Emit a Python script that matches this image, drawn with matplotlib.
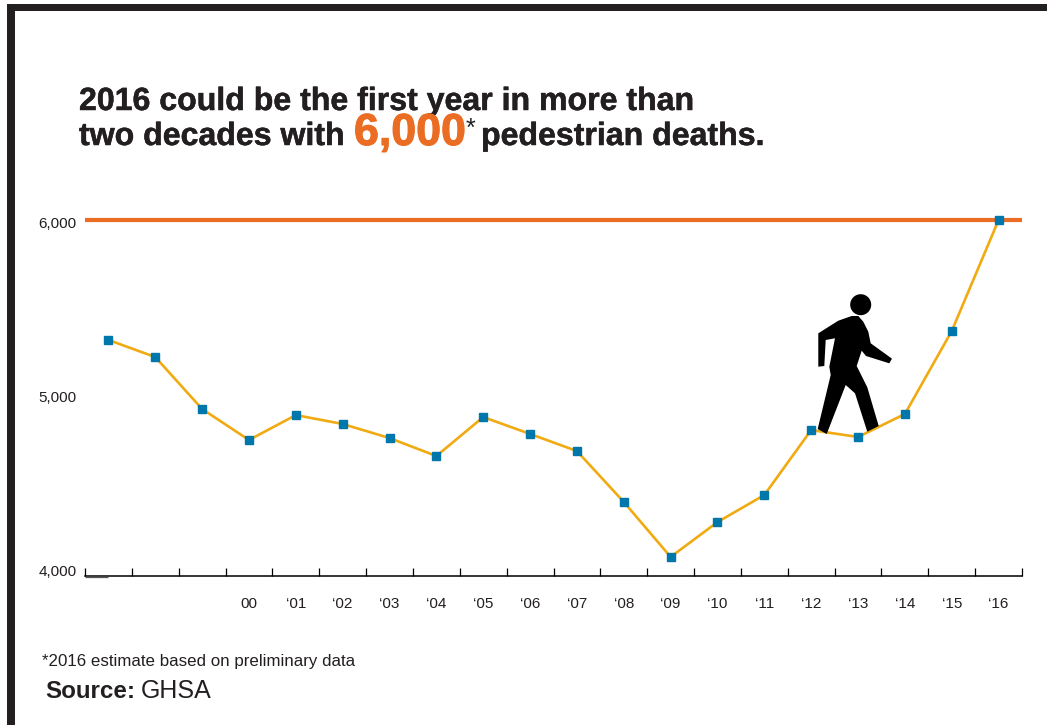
import matplotlib
matplotlib.use('Agg')
import matplotlib.pyplot as plt
import matplotlib.patheffects as pe
from matplotlib.patches import Circle, Polygon, Rectangle
from matplotlib.transforms import ScaledTranslation

plt.rcParams['font.family'] = ['Liberation Sans', 'DejaVu Sans']

W, H = 1047, 725
DARK = '#231f20'
ORANGE = '#ea6d23'
YELLOW = '#f0aa12'
BLUE = '#0077ab'

deaths = [5326, 5230, 4938, 4764, 4904, 4854, 4775, 4674, 4893, 4798,
          4702, 4416, 4107, 4303, 4455, 4820, 4781, 4910, 5376, 6000]
year_labels = ['', '', '', '00', "‘01", "‘02", "‘03", "‘04", "‘05", "‘06",
               "‘07", "‘08", "‘09", "‘10", "‘11", "‘12", "‘13", "‘14", "‘15", "‘16"]
y_ticks = [4000, 5000, 6000]
y_labels = ['4,000', '5,000', '6,000']
threshold = 6000

# walking figure outline, in picture pixels
person = [(818.3, 333.3), (838.3, 320.7), (851.7, 316), (858.3, 316), (863.3, 321.7),
          (868.3, 331.7), (870.7, 343.3), (892, 358.7), (889.3, 363.3), (866, 356),
          (861.7, 350.7), (856.7, 366), (867.3, 387.3), (878.7, 426), (867.3, 431.7),
          (855, 393.3), (845.7, 385), (826.7, 434), (817.7, 429), (830.7, 375),
          (829.3, 366.7), (835, 338.3), (825.7, 340), (824.3, 366), (818.3, 366.7)]

fig = plt.figure(figsize=(W / 100, H / 100), dpi=100, facecolor='white')

# overlay in pixel coordinates for frame, headline and footnotes
bg = fig.add_axes([0, 0, 1, 1], zorder=3)
bg.set_xlim(0, W)
bg.set_ylim(H, 0)
bg.axis('off')
bg.patch.set_alpha(0)
bg.add_patch(Rectangle((7, 3.5), 8, H, color=DARK, lw=0))
bg.add_patch(Rectangle((7, 3.5), W, 7.5, color=DARK, lw=0))
bg.add_patch(Polygon(person, closed=True, color='black', lw=0))
bg.add_patch(Circle((860.7, 304.7), 10.5, color='black', lw=0))
bg.plot([85, 108], [577, 577], color='#555555', lw=0.9, solid_capstyle='butt')

# the headline face is heavier than Liberation bold, so thicken it a bit
heavy = [pe.withStroke(linewidth=0.35, foreground=DARK)]
heavy_orange = [pe.withStroke(linewidth=0.8, foreground=ORANGE)]
bg.text(79, 110, '2016 could be the first year in more than', fontsize=23.1,
        fontweight='bold', color=DARK, va='baseline', path_effects=heavy)
bg.text(79, 145, 'two decades with', fontsize=23.1, fontweight='bold', color=DARK,
        va='baseline', path_effects=heavy)
bg.text(354, 145, '6,000', fontsize=32.2, fontweight='bold', color=ORANGE,
        va='baseline', path_effects=heavy_orange)
bg.text(466, 136, '*', fontsize=18, color=DARK, va='baseline')
bg.text(481, 145, 'pedestrian deaths.', fontsize=23.1, fontweight='bold', color=DARK,
        va='baseline', path_effects=heavy)
bg.text(42, 666, '*2016 estimate based on preliminary data', fontsize=12.2, color=DARK, va='baseline')
bg.text(45, 698, 'Source:', fontsize=17.4, fontweight='bold', color=DARK, va='baseline')
bg.text(141, 698, 'GHSA', fontsize=18, color=DARK, va='baseline')

# chart area: x runs over one bin per year, points sit in bin centres
ax = fig.add_axes([85 / W, 1 - 576 / H, (1022 - 85) / W, (576 - 220) / H])
ax.set_xlim(0, len(deaths))
ax.set_ylim(4000, 6000)
for side in ['top', 'right', 'left']:
    ax.spines[side].set_visible(False)
ax.spines['bottom'].set_linewidth(1.1)
ax.patch.set_alpha(0)

centres = [i + 0.5 for i in range(len(deaths))]
ax.axhline(threshold, color=ORANGE, lw=3, clip_on=False, zorder=2, solid_capstyle='butt')
ax.plot(centres, deaths, color=YELLOW, lw=1.9, marker='s', markersize=6.3,
        markerfacecolor=BLUE, markeredgecolor=BLUE, clip_on=False, zorder=3)

ax.set_xticks(range(len(deaths) + 1))
ax.set_xticklabels([])
ax.tick_params(axis='x', which='major', direction='in', length=6, width=0.9)
ax.set_xticks(centres, minor=True)
ax.set_xticklabels(year_labels, minor=True, fontsize=11, color=DARK)
ax.tick_params(axis='x', which='minor', length=0, pad=15)

ax.set_yticks(y_ticks)
ax.set_yticklabels(y_labels, fontsize=11, color=DARK)
ax.tick_params(axis='y', length=0, pad=6)
# the printed labels sit a little off their gridline
for tick, shift in zip(ax.yaxis.get_major_ticks(), [5, 2, -2]):
    tick.label1.set_transform(tick.label1.get_transform()
                              + ScaledTranslation(0, shift / 100, fig.dpi_scale_trans))

fig.savefig('out.png', dpi=100)
